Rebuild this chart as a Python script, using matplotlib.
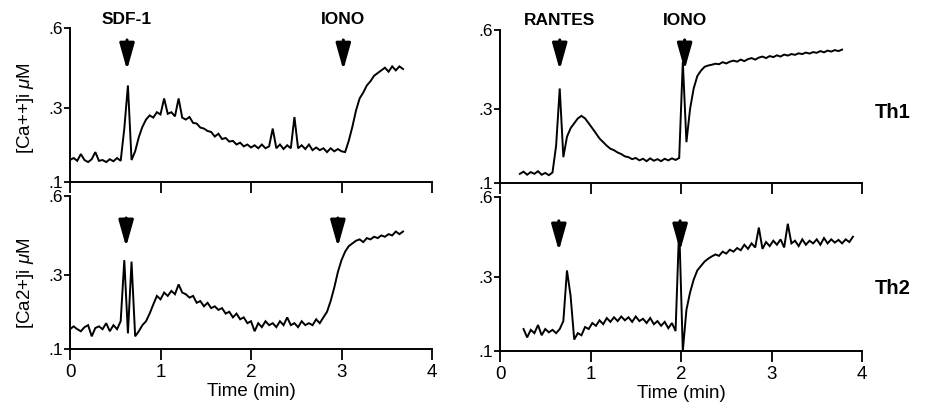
import numpy as np
import matplotlib
matplotlib.use("Agg")
import matplotlib.pyplot as plt

plt.rcParams['font.family'] = ['Liberation Sans', 'DejaVu Sans']
plt.rcParams['mathtext.fontset'] = 'custom'
plt.rcParams['mathtext.rm'] = 'Liberation Sans'
plt.rcParams['mathtext.it'] = 'Liberation Sans:italic'

# ---------------- data ----------------
dt = 0.04  # sampling step (min)

# SDF-1, Th1 (top-left)
sdf_th1_t0 = 0.0
sdf_th1 = [0.15, 0.155, 0.148, 0.165, 0.15, 0.145, 0.152, 0.17, 0.148, 0.15, 0.145, 0.152, 0.147, 0.155, 0.148,
           0.235, 0.375, 0.15, 0.172, 0.21, 0.24, 0.262, 0.275, 0.268, 0.285, 0.278, 0.33, 0.28, 0.285, 0.272,
           0.33, 0.268, 0.262, 0.27, 0.252, 0.25, 0.238, 0.235, 0.228, 0.225, 0.212, 0.22, 0.205, 0.208, 0.198,
           0.2, 0.19, 0.195, 0.185, 0.19, 0.182, 0.188, 0.18, 0.19, 0.18, 0.185, 0.235, 0.18, 0.19, 0.178,
           0.188, 0.18, 0.27, 0.18, 0.188, 0.178, 0.19, 0.175, 0.182, 0.175, 0.18, 0.17, 0.18, 0.172, 0.178,
           0.172, 0.17, 0.2, 0.24, 0.29, 0.33, 0.35, 0.375, 0.39, 0.41, 0.42, 0.43, 0.44, 0.425, 0.445,
           0.43, 0.445, 0.435]

# SDF-1, Th2 (bottom-left)
sdf_th2_t0 = 0.0
sdf_th2 = [0.145, 0.152, 0.145, 0.14, 0.15, 0.155, 0.128, 0.148, 0.152, 0.145, 0.16, 0.14, 0.155, 0.145, 0.165,
           0.35, 0.135, 0.345, 0.128, 0.14, 0.155, 0.165, 0.185, 0.21, 0.235, 0.225, 0.245, 0.235, 0.25, 0.24,
           0.27, 0.245, 0.24, 0.23, 0.235, 0.215, 0.22, 0.205, 0.215, 0.2, 0.205, 0.195, 0.2, 0.185, 0.19,
           0.175, 0.185, 0.17, 0.175, 0.16, 0.165, 0.14, 0.16, 0.15, 0.165, 0.155, 0.16, 0.15, 0.165, 0.155,
           0.175, 0.155, 0.16, 0.15, 0.165, 0.155, 0.16, 0.155, 0.17, 0.16, 0.175, 0.19, 0.22, 0.26, 0.31,
           0.35, 0.38, 0.4, 0.41, 0.42, 0.425, 0.415, 0.43, 0.425, 0.435, 0.43, 0.44, 0.435, 0.445, 0.44,
           0.455, 0.445, 0.455]

# RANTES, Th1 (top-right)
rantes_th1_t0 = 0.22
rantes_th1 = [0.12, 0.125, 0.118, 0.124, 0.12, 0.126, 0.118, 0.122, 0.117, 0.123, 0.19, 0.37, 0.16, 0.215,
              0.24, 0.255, 0.27, 0.278, 0.27, 0.255, 0.24, 0.225, 0.21, 0.2, 0.19, 0.182, 0.178, 0.172, 0.168,
              0.162, 0.16, 0.155, 0.158, 0.152, 0.156, 0.15, 0.157, 0.151, 0.155, 0.15, 0.156, 0.152, 0.157,
              0.153, 0.158, 0.47, 0.2, 0.3, 0.37, 0.415, 0.435, 0.45, 0.455, 0.458, 0.462, 0.46, 0.468, 0.463,
              0.47, 0.474, 0.47, 0.478, 0.472, 0.48, 0.484, 0.478, 0.486, 0.49, 0.484, 0.492, 0.488, 0.495,
              0.49, 0.498, 0.494, 0.5, 0.497, 0.503, 0.5, 0.506, 0.502, 0.508, 0.505, 0.512, 0.507, 0.514,
              0.51, 0.516, 0.512, 0.518]

# RANTES, Th2 (bottom-right)
rantes_th2_t0 = 0.26
rantes_th2 = [0.15, 0.13, 0.148, 0.14, 0.16, 0.135, 0.15, 0.142, 0.148, 0.14, 0.15, 0.17, 0.32, 0.24, 0.125,
              0.14, 0.135, 0.155, 0.15, 0.165, 0.158, 0.172, 0.162, 0.178, 0.168, 0.18, 0.17, 0.182, 0.172,
              0.18, 0.168, 0.182, 0.17, 0.176, 0.165, 0.178, 0.162, 0.17, 0.158, 0.168, 0.152, 0.165, 0.145,
              0.48, 0.1, 0.2, 0.25, 0.29, 0.32, 0.335, 0.35, 0.36, 0.368, 0.375, 0.37, 0.385, 0.378, 0.392,
              0.385, 0.398, 0.39, 0.41, 0.395, 0.415, 0.4, 0.475, 0.395, 0.42, 0.405, 0.425, 0.41, 0.43, 0.4,
              0.49, 0.415, 0.425, 0.405, 0.43, 0.41, 0.425, 0.415, 0.43, 0.41, 0.435, 0.415, 0.43, 0.418,
              0.428, 0.415, 0.43, 0.42, 0.44]

# stimulus times (min)
sdf_th1_stim = [0.63, 3.02]
sdf_th2_stim = [0.62, 2.96]
rantes_th1_stim = [0.66, 2.04]
rantes_th2_stim = [0.65, 1.99]

stim_labels_left = ['SDF-1', 'IONO']
stim_labels_right = ['RANTES', 'IONO']
row_labels = ['Th1', 'Th2']
ylabels = ['[Ca++]i $\\mu$M', '[Ca2+]i $\\mu$M']
yticks = [0.1, 0.3, 0.6]
yticklabels = ['.1', '.3', '.6']
xticks = [0, 1, 2, 3, 4]

# ---------------- figure ----------------
W, H = 927, 404
fig = plt.figure(figsize=(W / 100, H / 100), dpi=100)

def fwd(v):
    return np.power(np.clip(v, 1e-6, None), 0.6)

def inv(u):
    return np.power(np.clip(u, 0, None), 1 / 0.6)

def px_axes(x0, y0, x1, y1):
    return fig.add_axes([x0 / W, 1 - y1 / H, (x1 - x0) / W, (y1 - y0) / H])

ax_tl = px_axes(70, 28, 432, 182)
ax_bl = px_axes(70, 196, 432, 349)
ax_tr = px_axes(500, 30, 862, 183)
ax_br = px_axes(500, 197, 862, 351)

panels = [
    (ax_tl, sdf_th1_t0, sdf_th1, sdf_th1_stim, True, (0.727, 0.922)),
    (ax_bl, sdf_th2_t0, sdf_th2, sdf_th2_stim, False, (0.667, 0.856)),
    (ax_tr, rantes_th1_t0, rantes_th1, rantes_th1_stim, True, (0.739, 0.935)),
    (ax_br, rantes_th2_t0, rantes_th2, rantes_th2_stim, False, (0.650, 0.845)),
]

for ax, t0, vals, stims, top, (ytip, ytail) in panels:
    vals = np.asarray(vals)
    t = t0 + dt * np.arange(len(vals))
    ax.plot(t, vals, color='black', lw=1.4, solid_joinstyle='miter')
    ax.set_yscale('function', functions=(fwd, inv))
    ax.set_ylim(0.1, 0.6)
    ax.set_xlim(0, 4)
    ax.set_yticks(yticks)
    ax.set_yticklabels(yticklabels)
    ax.yaxis.set_minor_locator(matplotlib.ticker.NullLocator())
    ax.set_xticks(xticks)
    for s in ['top', 'right']:
        ax.spines[s].set_visible(False)
    for s in ['left', 'bottom']:
        ax.spines[s].set_linewidth(1.4)
    ax.tick_params(axis='y', direction='out', length=4, width=1.3, pad=1, labelsize=12.5)
    ax.tick_params(axis='x', direction='out', length=8, width=1.3, pad=3, labelsize=13.5)
    if top:
        ax.set_xticklabels([])
    else:
        ax.set_xlabel('Time (min)', fontsize=13.5, labelpad=1)
    ax.patch.set_alpha(0)
    for st in stims:
        ax.annotate('', xy=(st, ytip), xycoords=('data', 'axes fraction'),
                    xytext=(st, ytail), textcoords=('data', 'axes fraction'),
                    arrowprops=dict(arrowstyle='-|>,head_length=1.6,head_width=0.45',
                                    color='black', lw=2.2, shrinkA=0, shrinkB=0),
                    annotation_clip=False)

# stimulus names above top panels
for ax, stims, names, yfrac in [(ax_tl, sdf_th1_stim, stim_labels_left, 1.052),
                                (ax_tr, rantes_th1_stim, stim_labels_right, 1.065)]:
    for st, nm in zip(stims, names):
        ax.text(st, yfrac, nm, transform=ax.get_xaxis_transform(), ha='center', va='center',
                fontsize=12.5, fontweight='bold')

# y labels
fig.text(25 / W, 1 - 108 / H, ylabels[0], rotation=90, ha='center', va='center', fontsize=13.5)
fig.text(25 / W, 1 - 283 / H, ylabels[1], rotation=90, ha='center', va='center', fontsize=13.5)

# row labels
fig.text(893 / W, 1 - 112 / H, row_labels[0], ha='center', va='center', fontsize=14.5, fontweight='bold')
fig.text(893 / W, 1 - 288 / H, row_labels[1], ha='center', va='center', fontsize=14.5, fontweight='bold')

fig.savefig('out.png', dpi=100)
